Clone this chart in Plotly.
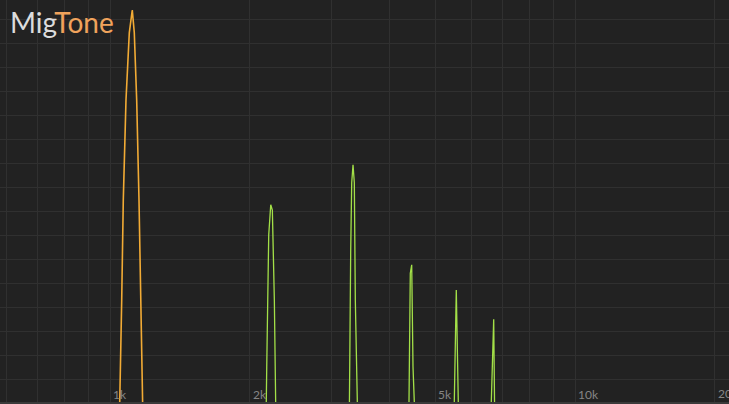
import math
import plotly.graph_objects as go

# spectrum: frequency (Hz) and level (dB)
fund_freq = [1040, 1050.8, 1059.7, 1068.0, 1082.4, 1100.3, 1116.6,
             1127.8, 1141.3, 1154.4, 1165.9, 1177.6, 1185]
fund_db = [-125, -101.7, -76.2, -51.2, -26.2, -9.4, -3.7,
           -9.4, -26.2, -51.2, -76.2, -101.7, -125]

harm_freq = [2155, 2162.4, 2173.1, 2183.9, 2194.7, 2216.6, 2234.2, 2256.5, 2278.9, 2285,
             3260, 3270.7, 3293.5, 3309.8, 3331.3, 3352.8, 3369.5, 3403.0, 3410,
             4390, 4395.5, 4423.9, 4454.6, 4483.4, 4512.4, 4520,
             5495, 5500.5, 5555.2, 5610.5, 5615,
             6600, 6606.9, 6686.0, 6739.0, 6745]
harm_db = [-125, -101.7, -92.9, -76.2, -59.9, -52.4, -53.7, -76.2, -101.7, -125,
           -125, -101.7, -63.7, -46.9, -42.4, -46.9, -76.2, -101.7, -125,
           -125, -101.7, -69.5, -67.4, -92.9, -101.7, -125,
           -125, -101.7, -73.7, -101.7, -125,
           -125, -101.7, -81.0, -101.7, -125]

tick_vals = [1000, 2000, 5000, 10000]
tick_text = ["1k", "2k", "5k", "10k"]
edge_tick_val = 20000
edge_tick_text = "20k"
grid_vals = [600, 700, 800, 900, 3000, 4000, 6000, 7000, 8000, 9000, 20000]

BG = "#222222"
GRID = "#303030"
TICK_FONT = dict(family="Lato", size=12, color="#858585")

fig = go.Figure()

fig.add_trace(go.Scatter(
    x=harm_freq, y=harm_db, mode="lines",
    line=dict(color="#a3e048", width=1.3),
    hoverinfo="skip", showlegend=False
))
fig.add_trace(go.Scatter(
    x=fund_freq, y=fund_db, mode="lines",
    line=dict(color="#f2ab35", width=1.6),
    hoverinfo="skip", showlegend=False
))

# title, two colours
fig.add_annotation(
    x=0, y=1, xref="paper", yref="paper", xanchor="left", yanchor="top",
    text="<span style='color:#dcdcdc'>Mig</span><span style='color:#f0a35c'>Tone</span>",
    showarrow=False, xshift=8, yshift=-3,
    font=dict(family="Lato", size=28),
)

# 20k label sits on the right edge, plotly drops it as a tick label
fig.add_annotation(
    x=math.log10(edge_tick_val), y=0, xref="x", yref="paper",
    xanchor="left", yanchor="bottom", text=edge_tick_text,
    showarrow=False, xshift=1, yshift=-1, font=TICK_FONT,
)

fig.update_layout(
    width=729, height=404,
    margin=dict(l=0, r=0, t=0, b=2),
    paper_bgcolor=BG, plot_bgcolor=BG,
    xaxis=dict(
        type="log", range=[2.76344, 4.33118],
        tickvals=tick_vals, ticktext=tick_text,
        ticklabelposition="inside right",
        ticklabelshift=2, ticklabelstandoff=-3,
        tickfont=TICK_FONT,
        showgrid=True, gridcolor=GRID, gridwidth=1,
        minor=dict(tickvals=grid_vals, showgrid=True, gridcolor=GRID, gridwidth=1),
        zeroline=False, showline=True, linecolor="#3a3a3a", linewidth=2,
        ticks="",
    ),
    yaxis=dict(
        range=[-101.7, -1.2], tick0=0, dtick=6,
        showticklabels=False, showgrid=True, gridcolor=GRID, gridwidth=1,
        zeroline=False,
    ),
)

fig.write_html(
    "out.html",
    config={"displayModeBar": False},
    post_script="document.body.style.margin='0';document.body.style.background='#222222';",
)
